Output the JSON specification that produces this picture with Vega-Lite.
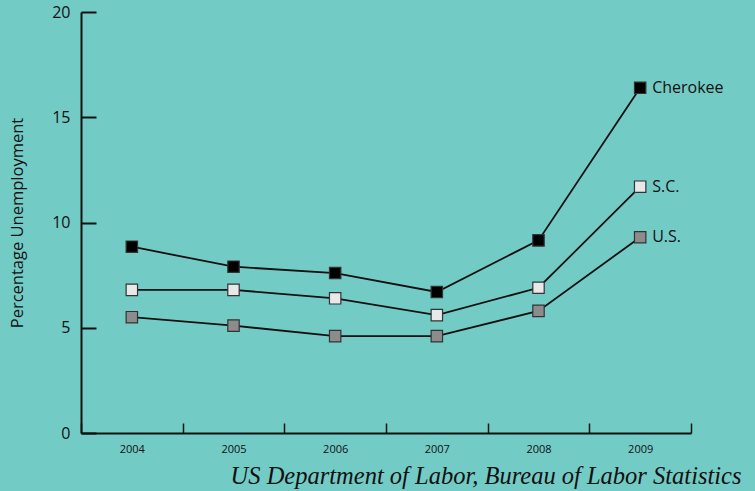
{
  "$schema": "https://vega.github.io/schema/vega-lite/v6.json",
  "width": 610,
  "height": 421,
  "autosize": "none",
  "padding": {"left": 81, "top": 12, "right": 64, "bottom": 58},
  "background": "#73CBC6",
  "config": {"view": {"stroke": null}, "font": "Open Sans"},
  "data": {"values": [
    {"year": "2004", "series": "Cherokee", "rate": 8.85},
    {"year": "2005", "series": "Cherokee", "rate": 7.9},
    {"year": "2006", "series": "Cherokee", "rate": 7.6},
    {"year": "2007", "series": "Cherokee", "rate": 6.7},
    {"year": "2008", "series": "Cherokee", "rate": 9.15},
    {"year": "2009", "series": "Cherokee", "rate": 16.4},
    {"year": "2004", "series": "S.C.", "rate": 6.8},
    {"year": "2005", "series": "S.C.", "rate": 6.8},
    {"year": "2006", "series": "S.C.", "rate": 6.4},
    {"year": "2007", "series": "S.C.", "rate": 5.6},
    {"year": "2008", "series": "S.C.", "rate": 6.9},
    {"year": "2009", "series": "S.C.", "rate": 11.7},
    {"year": "2004", "series": "U.S.", "rate": 5.5},
    {"year": "2005", "series": "U.S.", "rate": 5.1},
    {"year": "2006", "series": "U.S.", "rate": 4.6},
    {"year": "2007", "series": "U.S.", "rate": 4.6},
    {"year": "2008", "series": "U.S.", "rate": 5.8},
    {"year": "2009", "series": "U.S.", "rate": 9.3}
  ]},
  "encoding": {
    "x": {"field": "year", "type": "ordinal",
      "scale": {"type": "band", "paddingInner": 0, "paddingOuter": 0},
      "axis": {"tickBand": "extent", "labelAngle": 0, "domainColor": "#111", "domainWidth": 2,
        "tickColor": "#111", "tickWidth": 1.5, "tickSize": -10, "labelPadding": 20,
        "labelFontSize": 11, "labelColor": "#111",
        "title": "US Department of Labor, Bureau of Labor Statistics",
        "titleFont": "Liberation Serif", "titleFontStyle": "italic", "titleFontWeight": "normal",
        "titleFontSize": 24.5, "titleColor": "#111", "titleAlign": "right", "titleAnchor": "end",
        "titleX": 660, "titleY": 50, "titleBaseline": "alphabetic"}},
    "y": {"field": "rate", "type": "quantitative",
      "scale": {"domain": [0, 20], "nice": false, "zero": true},
      "axis": {"values": [0, 5, 10, 15, 20], "grid": false, "domainColor": "#111", "domainWidth": 2,
        "tickColor": "#111", "tickWidth": 2, "tickSize": -15, "labelPadding": 26,
        "labelFontSize": 16, "labelColor": "#111",
        "title": "Percentage Unemployment", "titleFontSize": 16.5, "titleFontWeight": "normal",
        "titleColor": "#111", "titleX": -56, "titleBaseline": "bottom"}}
  },
  "layer": [
    {"mark": {"type": "line", "interpolate": "linear", "color": "#111", "strokeWidth": 1.8},
     "encoding": {"detail": {"field": "series"}}},
    {"mark": {"type": "point", "shape": "square", "filled": true, "size": 130, "stroke": "#333", "strokeWidth": 1.2, "opacity": 1},
     "encoding": {"fill": {"field": "series", "type": "nominal",
       "scale": {"domain": ["Cherokee", "S.C.", "U.S."], "range": ["#000000", "#E8E8E8", "#8C8C8C"]}, "legend": null}}},
    {"transform": [{"filter": "datum.year == '2009'"}],
     "mark": {"type": "text", "align": "left", "dx": 12, "fontSize": 16, "color": "#111"},
     "encoding": {"text": {"field": "series"}}}
  ]
}
